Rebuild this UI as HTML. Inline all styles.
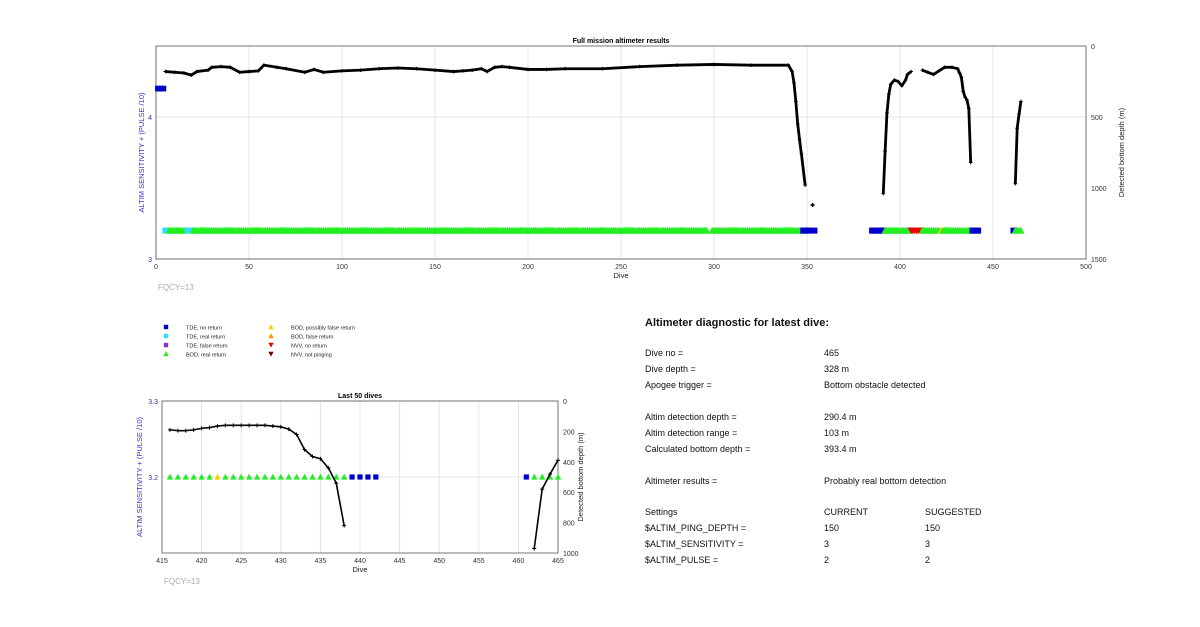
<!DOCTYPE html>
<html><head><meta charset="utf-8">
<style>
html,body{margin:0;padding:0;background:#fff;}
body{width:1200px;height:622px;overflow:hidden;position:relative;font-family:"Liberation Sans",Arial,sans-serif;}
svg text{font-family:"Liberation Sans",Arial,sans-serif;}
.diag{position:absolute;font-size:9px;color:#111;}
</style></head>
<body>
<svg id="chart" width="1200" height="622" xmlns="http://www.w3.org/2000/svg"></svg>
<div class="diag" style="left:645px;top:317px;font-size:11px;font-weight:bold;">Altimeter diagnostic for latest dive:</div>
<div class="diag" style="left:645px;top:348px">Dive no =</div>
<div class="diag" style="left:824px;top:348px">465</div>
<div class="diag" style="left:645px;top:364px">Dive depth =</div>
<div class="diag" style="left:824px;top:364px">328 m</div>
<div class="diag" style="left:645px;top:380px">Apogee trigger =</div>
<div class="diag" style="left:824px;top:380px">Bottom obstacle detected</div>
<div class="diag" style="left:645px;top:412px">Altim detection depth =</div>
<div class="diag" style="left:824px;top:412px">290.4 m</div>
<div class="diag" style="left:645px;top:428px">Altim detection range =</div>
<div class="diag" style="left:824px;top:428px">103 m</div>
<div class="diag" style="left:645px;top:444px">Calculated bottom depth =</div>
<div class="diag" style="left:824px;top:444px">393.4 m</div>
<div class="diag" style="left:645px;top:476px">Altimeter results =</div>
<div class="diag" style="left:824px;top:476px">Probably real bottom detection</div>
<div class="diag" style="left:645px;top:507px">Settings</div>
<div class="diag" style="left:824px;top:507px">CURRENT</div>
<div class="diag" style="left:925px;top:507px">SUGGESTED</div>
<div class="diag" style="left:645px;top:523px">$ALTIM_PING_DEPTH =</div>
<div class="diag" style="left:824px;top:523px">150</div>
<div class="diag" style="left:925px;top:523px">150</div>
<div class="diag" style="left:645px;top:539px">$ALTIM_SENSITIVITY =</div>
<div class="diag" style="left:824px;top:539px">3</div>
<div class="diag" style="left:925px;top:539px">3</div>
<div class="diag" style="left:645px;top:555px">$ALTIM_PULSE =</div>
<div class="diag" style="left:824px;top:555px">2</div>
<div class="diag" style="left:925px;top:555px">2</div>
<script>
// ---- data ----
const topDives = [5,10,15,19,22,28,30,35,40,45,50,55,58,65,70,80,85,90,100,110,120,130,140,150,160,165,170,175,178,182,186,190,200,210,220,240,260,280,300,320,340,342,343,344,345,346,347,349,null,391,392,393,394,395,397,399,401,403,404,406,null,412,415,418,421,424,428,431,432,433,434,435,436,437,438,null,462,463,464,465];
const topDepth = [180,185,190,205,180,170,150,145,150,185,180,175,135,150,160,185,165,185,175,170,160,155,160,170,180,175,170,160,180,150,145,150,165,165,160,160,145,135,130,135,135,180,260,390,550,660,760,980,null,1040,740,470,340,270,240,250,280,240,200,180,null,170,185,200,175,150,150,160,190,220,320,360,380,440,820,null,970,580,480,390];
const isolatedDive = [353];
const isolatedDepth = [1120];
const sensTopDives = [1,2,3,4];
const sensTopValue = [4.2,4.2,4.2,4.2];
const markerDives = [5,6,7,16,17,19,20,296,299,347,348,351,354,354,385,391,392,405,406,411,412,421,422,422,423,438,439,442,461,461,462,465];
const markerTypes = ['cyan','green','cyan','green','green','blue','blue','blue','green','red','green','yellow','green','blue','blue','green'];
const markerLevel = 3.2;
const lastDives = [416,417,418,419,420,421,422,423,424,425,426,427,428,429,430,431,432,433,434,435,436,437,438,null,462,463,464,465];
const lastDepth = [190,195,195,190,180,175,165,160,160,160,160,160,160,165,170,185,220,320,365,380,440,540,820,null,970,580,480,390];
const lastMarkDives = [416,417,418,419,420,421,422,423,424,425,426,427,428,429,430,431,432,433,434,435,436,437,438,439,440,441,442,461,462,463,464,465];
const lastMarkTypes = ['green','green','green','green','green','green','yellow','green','green','green','green','green','green','green','green','green','green','green','green','green','green','green','green','blue','blue','blue','blue','blue','green','green','green','green'];
const topXTicks = [0,50,100,150,200,250,300,350,400,450,500];
const topLTicks = [3,4];
const topRTicks = [0,500,1000,1500];
const botXTicks = [415,420,425,430,435,440,445,450,455,460,465];
const botLTicks = [3.2,3.3];
const botRTicks = [0,200,400,600,800,1000];

const colors = {blue:'#0000cc',cyan:'#33ddff',purple:'#8833cc',green:'#22ee22',yellow:'#ffcc00',orange:'#ff9900',red:'#ee0000',dark:'#770000'};
const NS='http://www.w3.org/2000/svg';
const svg=document.getElementById('chart');
function mk(tag,attrs,parent){const e=document.createElementNS(NS,tag);for(const k in attrs)e.setAttribute(k,attrs[k]);(parent||svg).appendChild(e);return e;}
function txt(s,attrs,name,parent){const e=mk('text',attrs,parent);e.textContent=s;return e;}

function axes(cfg){
  const g=mk('g',{});
  
  
  const X=v=>cfg.x0+(v-cfg.xmin)/(cfg.xmax-cfg.xmin)*(cfg.x1-cfg.x0);
  const YL=v=>cfg.y1-(v-cfg.lmin)/(cfg.lmax-cfg.lmin)*(cfg.y1-cfg.y0);
  const YR=v=>cfg.y0+(v-cfg.rmin)/(cfg.rmax-cfg.rmin)*(cfg.y1-cfg.y0);
  cfg.xt.forEach(t=>{const l=mk('line',{x1:X(t),x2:X(t),y1:cfg.y0,y2:cfg.y1,stroke:'#e4e4e4','stroke-width':1},g);
    txt(String(t),{x:X(t),y:cfg.y1+10,'font-size':7,'text-anchor':'middle',fill:'#333'},'x-tick-label',g);});
  cfg.lt.forEach(t=>{const l=mk('line',{x1:cfg.x0,x2:cfg.x1,y1:YL(t),y2:YL(t),stroke:'#e4e4e4','stroke-width':1},g);
    txt(String(t),{x:cfg.x0-4,y:YL(t)+3,'font-size':7,'text-anchor':'end',fill:'#3333aa'},'left-tick-label',g);});
  cfg.rt.forEach(t=>{txt(String(t),{x:cfg.x1+5,y:YR(t)+3,'font-size':7,fill:'#333'},'right-tick-label',g);});
  const r=mk('rect',{x:cfg.x0,y:cfg.y0,width:cfg.x1-cfg.x0,height:cfg.y1-cfg.y0,fill:'none',stroke:'#555','stroke-width':0.8},g);
  
  txt(cfg.title,{x:(cfg.x0+cfg.x1)/2,y:cfg.y0-3,'font-size':7,'font-weight':'bold','text-anchor':'middle',fill:'#000'},'chart-title',g);
  txt('Dive',{x:(cfg.x0+cfg.x1)/2,y:cfg.y1+19,'font-size':7.5,'text-anchor':'middle',fill:'#222'},'x-axis-title',g);
  const cy=(cfg.y0+cfg.y1)/2;
  txt('ALTIM SENSITIVITY + (PULSE /10)',{x:cfg.x0-cfg.lOff,y:cy,'font-size':7.5,'text-anchor':'middle',fill:'#3333cc',transform:`rotate(-90 ${cfg.x0-cfg.lOff} ${cy})`},'left-axis-title',g);
  txt('Detected bottom depth (m)',{x:cfg.x1+cfg.rOff,y:cy,'font-size':7.5,'text-anchor':'middle',fill:'#222',transform:`rotate(-90 ${cfg.x1+cfg.rOff} ${cy})`},'right-axis-title',g);
  txt('FQCY=13',{x:cfg.fx,y:cfg.y1+31,'font-size':8,fill:'#aaa'},'frequency-label',g);
  return {X,YL,YR,g};
}
function marker(type,x,y,s,name){
  let e;
  if(type==='blue'||type==='cyan'||type==='purple'){e=mk('rect',{x:x-s,y:y-s,width:2*s,height:2*s,fill:colors[type]});}
  else if(type==='red'||type==='dark'){e=mk('path',{d:`M${x-s*1.2},${y-s} L${x+s*1.2},${y-s} L${x},${y+s*1.2}Z`,fill:colors[type]});}
  else {e=mk('path',{d:`M${x-s*1.2},${y+s} L${x+s*1.2},${y+s} L${x},${y-s*1.3}Z`,fill:colors[type]});}
  
  
  return e;
}
function depthLine(A,dives,depths,w,ms,name){
  let seg=[];const segs=[];
  dives.forEach((d,i)=>{if(d===null||depths[i]===null){if(seg.length)segs.push(seg);seg=[];}else seg.push([A.X(d),A.YR(depths[i])]);});
  if(seg.length)segs.push(seg);
  segs.forEach(s=>{const p=mk('polyline',{points:s.map(q=>q.join(',')).join(' '),fill:'none',stroke:'#000','stroke-width':w,'stroke-linejoin':'round'});
    
    s.forEach(q=>{const m=mk('path',{d:`M${q[0]-ms},${q[1]} h${2*ms} M${q[0]},${q[1]-ms} v${2*ms}`,stroke:'#000','stroke-width':1});
      });});
}

// ---- top chart ----
const T=axes({name:'full-mission-chart',x0:156,x1:1086,y0:46,y1:259,xmin:0,xmax:500,lmin:3,lmax:4.5,rmin:0,rmax:1500,xt:topXTicks,lt:topLTicks,rt:topRTicks,title:'Full mission altimeter results',lOff:12,rOff:38,fx:158});
for(let i=0;i<markerTypes.length;i++){
  const a=markerDives[2*i],b=markerDives[2*i+1];
  for(let d=a;d<=b;d++)marker(markerTypes[i],T.X(d),T.YL(markerLevel),3,'top-marker-'+markerTypes[i]);
}
sensTopDives.forEach((d,i)=>marker('blue',T.X(d),T.YL(sensTopValue[i]),2.8,'top-sensitivity-marker'));
depthLine(T,topDives,topDepth,2.8,1.8,'top-depth-line');
isolatedDive.forEach((d,i)=>{const m=mk('path',{d:`M${T.X(d)-2},${T.YR(isolatedDepth[i])} h4 M${T.X(d)},${T.YR(isolatedDepth[i])-2} v4`,stroke:'#000','stroke-width':1.5});
  });

// ---- bottom chart ----
const B=axes({name:'last-50-dives-chart',x0:162,x1:558,y0:401,y1:553,xmin:415,xmax:465,lmin:3.1,lmax:3.3,rmin:0,rmax:1000,xt:botXTicks,lt:botLTicks,rt:botRTicks,title:'Last 50 dives',lOff:20,rOff:25,fx:164});
lastMarkDives.forEach((d,i)=>marker(lastMarkTypes[i],B.X(d),B.YL(markerLevel),2.6,'last-marker-'+lastMarkTypes[i]));
depthLine(B,lastDives,lastDepth,1.6,2,'last-depth-line');

// ---- legend ----
const leg=[['blue','TDE, no return'],['cyan','TDE, real return'],['purple','TDE, false return'],['green','BOD, real return'],['yellow','BOD, possibly false return'],['orange','BOD, false return'],['red','NVV, no return'],['dark','NVV, not pinging']];
const lg=mk('g',{});


leg.forEach((e,i)=>{const col=Math.floor(i/4),row=i%4;const x=166+col*105,y=327+row*9;
  marker(e[0],x,y,2.2,'legend-marker');
  txt(e[1],{x:x+20,y:y+2.5,'font-size':5.5,fill:'#222'},'legend-entry',lg);});
</script>
</body></html>
